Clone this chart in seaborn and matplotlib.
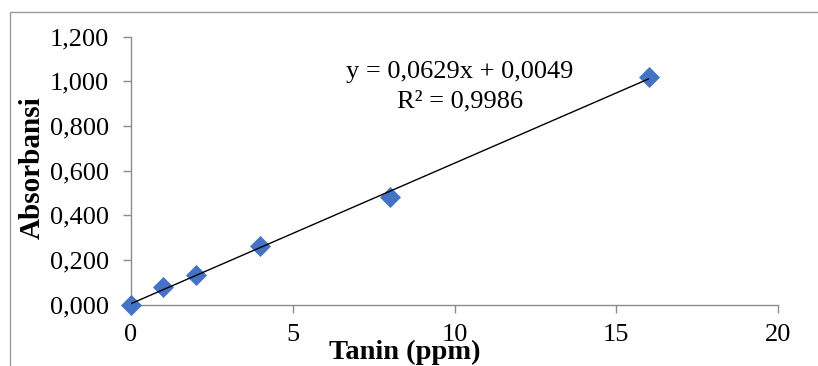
import matplotlib
matplotlib.use("Agg")
import matplotlib.pyplot as plt
import numpy as np
import pandas as pd
import seaborn as sns
from matplotlib.patches import Rectangle

# data
tanin_ppm = [0, 1, 2, 4, 8, 16]
absorbansi = [0.000, 0.077, 0.132, 0.262, 0.482, 1.021]

x_ticks = [0, 5, 10, 15, 20]
y_ticks = [0.0, 0.2, 0.4, 0.6, 0.8, 1.0, 1.2]
y_tick_labels = ["0,000", "0,200", "0,400", "0,600", "0,800", "1,000", "1,200"]

eq_line = "y = 0,0629x + 0,0049"
r2_line = "R\u00b2 = 0,9986"

MARKER_COLOR = "#4472C4"
AXIS_COLOR = "#8C8C8C"

sns.set_theme(style="white")
plt.rcParams["font.family"] = ["Liberation Serif", "DejaVu Serif"]

df = pd.DataFrame({"Tanin (ppm)": tanin_ppm, "Absorbansi": absorbansi})

fig = plt.figure(figsize=(8.18, 3.66), dpi=100)
ax = fig.add_axes([131 / 818, 1 - 304.5 / 366, 647 / 818, 267.8 / 366])

# outer chart border (Excel chart area)
fig.patches.append(
    Rectangle((10 / 818, -0.1), 2.0, 1.1 - 12 / 366, transform=fig.transFigure,
              fill=False, edgecolor="#9A9A9A", linewidth=1.0, zorder=0)
)

sns.scatterplot(data=df, x="Tanin (ppm)", y="Absorbansi", ax=ax, marker="D",
                s=115, color=MARKER_COLOR, linewidth=0, zorder=3, clip_on=False)
sns.regplot(data=df, x="Tanin (ppm)", y="Absorbansi", ax=ax, scatter=False, ci=None,
            truncate=True, line_kws={"color": "black", "linewidth": 1.0, "zorder": 4})

ax.set_xlim(0, 20)
ax.set_ylim(0, 1.2)
ax.set_xticks(x_ticks)
ax.set_xticklabels([str(v) for v in x_ticks])
ax.set_yticks(y_ticks)
ax.set_yticklabels(y_tick_labels)

for side in ["top", "right"]:
    ax.spines[side].set_visible(False)
for side in ["left", "bottom"]:
    ax.spines[side].set_color(AXIS_COLOR)
    ax.spines[side].set_linewidth(1.0)

ax.tick_params(axis="both", direction="out", length=6, width=1.0, color=AXIS_COLOR,
               labelsize=19, labelcolor="black")
ax.tick_params(axis="y", pad=10)
ax.tick_params(axis="x", pad=8)
ax.tick_params(axis="both", which="both", left=True, bottom=True)

ax.set_xlabel("Tanin (ppm)", fontsize=20.5, fontweight="bold", color="black")
ax.set_ylabel("Absorbansi", fontsize=21, fontweight="bold", color="black")
ax.xaxis.set_label_coords(0.4235, -0.132)
ax.yaxis.set_label_coords(-0.131, 0.51)

ax.text(0.5085, 0.846, eq_line, transform=ax.transAxes, ha="center", va="baseline",
        fontsize=19, color="black")
ax.text(0.5085, 0.734, r2_line, transform=ax.transAxes, ha="center", va="baseline",
        fontsize=19, color="black")

ax.grid(False)
fig.savefig("out.png", dpi=100)
